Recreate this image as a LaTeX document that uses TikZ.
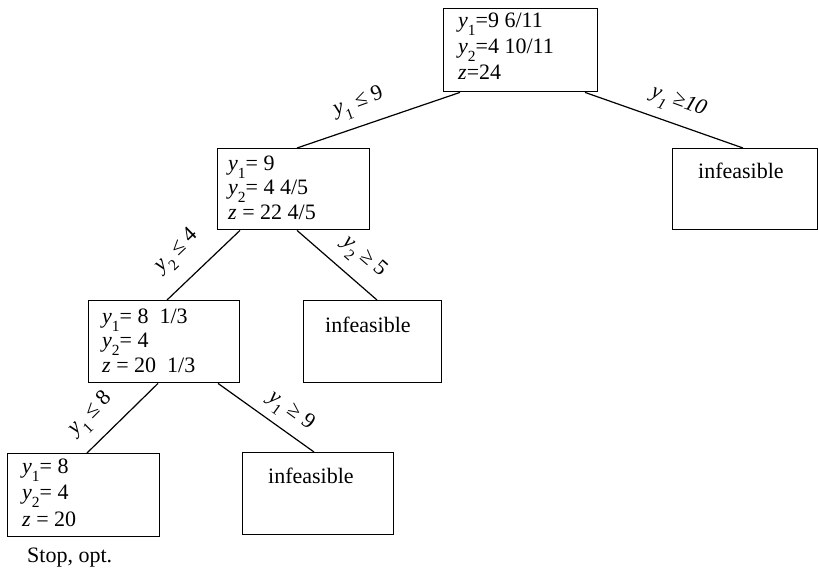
\documentclass[tikz,border=0pt]{standalone}
\usepackage{fontspec}
\setmainfont{Liberation Serif}
\newcommand\sbx[1]{\raisebox{-8.5pt}{\fontsize{15.5}{15.5}\selectfont #1}}
\newcommand\yv[1]{\textit{y}\sbx{#1}}
\begin{document}
\begin{tikzpicture}[x=1pt,y=-1pt,
  every node/.style={font=\fontsize{22}{25}\selectfont, inner sep=0pt},
  bbox/.style={draw, line width=1.4pt, anchor=north west, minimum width=#1},
  bbox/.default=152pt,
  ln/.style={anchor=base west},
  lbl/.style={anchor=center},
  edge/.style={line width=1.2pt}]
\useasboundingbox (0,0) rectangle (818,571);

% boxes of the branch-and-bound tree
\node[bbox=154pt, minimum height=83pt] (root) at (443,8) {};
\node[bbox, minimum height=81pt] (n2) at (217,148) {};
\node[bbox=145pt, minimum height=81pt] (infA) at (672,148) {};
\node[bbox=151pt, minimum height=82pt] (n3) at (88,300) {};
\node[bbox=138pt, minimum height=82pt] (infB) at (303,300) {};
\node[bbox, minimum height=83pt] (n4) at (7,453) {};
\node[bbox=151pt, minimum height=82pt] (infC) at (242,452) {};

% contents
\node[ln] (r1) at (458,27) {\yv{1}=9 6/11};
\node[ln] (r2) at (458,53) {\yv{2}=4 10/11};
\node[ln] (r3) at (458,79) {\textit{z}=24};

\node[ln] (a1) at (228,170) {\yv{1}= 9};
\node[ln] (a2) at (228,194) {\yv{2}= 4 4/5};
\node[ln] (a3) at (228,219) {\textit{z} = 22 4/5};

\node[ln] (b1) at (102,323) {\yv{1}= 8\ \ 1/3};
\node[ln] (b2) at (102,347) {\yv{2}= 4};
\node[ln] (b3) at (102,372) {\textit{z} = 20\ \ 1/3};

\node[ln] (c1) at (22,473) {\yv{1}= 8};
\node[ln] (c2) at (22,499) {\yv{2}= 4};
\node[ln] (c3) at (22,526) {\textit{z} = 20};

\node[ln] (stop) at (27,562) {Stop, opt.};

\node[ln] (ta) at (698,178) {infeasible};
\node[ln] (tb) at (325,332) {infeasible};
\node[ln] (tc) at (268,483) {infeasible};

% branches
\draw[edge] ([xshift=17pt]root.south west) -- ([xshift=80pt]n2.north west);
\draw[edge] ([xshift=142pt]root.south west) -- ([xshift=71pt]infA.north west);
\draw[edge] ([xshift=23pt]n2.south west) -- ([xshift=79pt]n3.north west);
\draw[edge] ([xshift=80pt]n2.south west) -- ([xshift=74pt]infB.north west);
\draw[edge] ([xshift=70pt]n3.south west) -- ([xshift=80pt]n4.north west);
\draw[edge] ([xshift=130pt]n3.south west) -- ([xshift=72pt]infC.north west);

% branch conditions
\node[lbl, rotate=20] (e1) at (359,104) {\yv{1} ≤ 9};
\node[lbl, rotate=-20] (e2) at (678,103) {\textit{\yv{1} ≥10}};
\node[lbl, rotate=44] (e3) at (178,252) {\yv{2} ≤ 4};
\node[lbl, rotate=-41] (e4) at (363,258) {\yv{2} ≥ 5};
\node[lbl, rotate=45] (e5) at (92,415) {\yv{1} ≤ 8};
\node[lbl, rotate=-36] (e6) at (290,412) {\yv{1} ≥ 9};
\end{tikzpicture}
\end{document}
